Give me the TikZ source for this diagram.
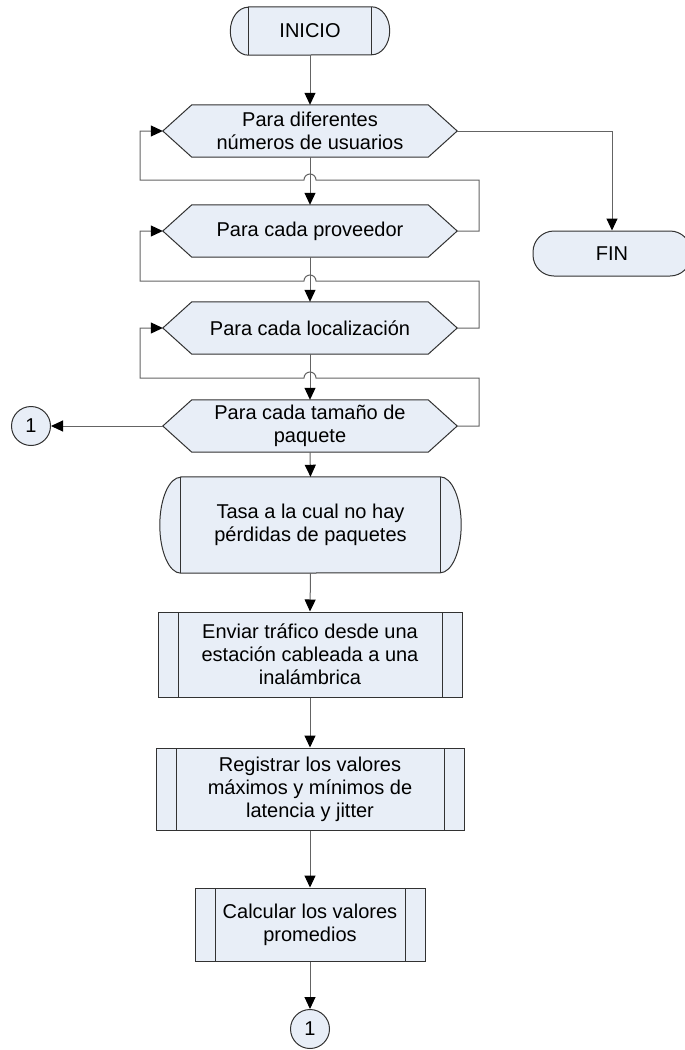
\documentclass[tikz,border=0pt]{standalone}
\usepackage{fontspec}
\setmainfont{Liberation Sans}
\usetikzlibrary{arrows.meta,backgrounds}

\definecolor{boxfill}{RGB}{232,238,247}
\definecolor{bordergray}{RGB}{50,50,50}
\definecolor{wiregray}{RGB}{100,100,100}

% hexagonal loop symbol drawn around a named node (tips at west/east)
\newcommand\hexoutline[1]{%
  \path[shapeline] (#1.west) -- ([xshift=29pt]#1.north west)
    -- ([xshift=-29pt]#1.north east) -- (#1.east)
    -- ([xshift=-29pt]#1.south east) -- ([xshift=29pt]#1.south west) -- cycle;}

% rectangle with bowed ends and two inner bars around a named node
\newcommand\drumoutline[3]{%
  \path[shapeline] (#1.north west) -- (#1.north east)
    arc[start angle=90,end angle=-90,x radius=#2,y radius=#3]
    -- (#1.south west)
    arc[start angle=270,end angle=90,x radius=#2,y radius=#3] -- cycle;
  \draw[bordergray,line width=1pt] (#1.north west) -- (#1.south west)
    (#1.north east) -- (#1.south east);}

\begin{document}
\begin{tikzpicture}[x=1pt,y=-1pt,
  every node/.style={font=\fontsize{20}{23}\selectfont, align=center, inner sep=0pt, text=black},
  shapeline/.style={draw=bordergray, fill=boxfill, line width=1pt},
  loopbox/.style={rectangle, minimum width=294pt, minimum height=52pt},
  drumbox/.style={rectangle},
  procbox/.style={rectangle, draw=bordergray, fill=boxfill, line width=1pt,
    path picture={\draw[bordergray,line width=1pt]
      ([xshift=20pt]path picture bounding box.north west) -- ([xshift=20pt]path picture bounding box.south west)
      ([xshift=-20pt]path picture bounding box.north east) -- ([xshift=-20pt]path picture bounding box.south east);}},
  endbox/.style={rectangle, rounded corners=21pt, draw=bordergray, fill=boxfill, line width=1pt,
    minimum width=158pt, minimum height=45pt},
  connector/.style={circle, draw=bordergray, fill=boxfill, line width=1pt, minimum size=39pt},
  flow/.style={draw=wiregray, line width=1pt, -{Triangle[length=12pt,width=11pt,color=black]}},
  wire/.style={draw=wiregray, line width=1pt}]

\useasboundingbox (0,0) rectangle (685,1050);

% nodes
\node[drumbox, minimum width=123pt, minimum height=48pt] (start) at (310,31) {INICIO};
\node[loopbox] (h1) at (310,131) {Para diferentes\\números de usuarios};
\node[loopbox] (h2) at (310,231) {Para cada proveedor};
\node[loopbox] (h3) at (310,328) {Para cada localización};
\node[loopbox] (h4) at (310,426) {Para cada tamaño de\\paquete};
\node[endbox] (fin) at (612,253.5) {FIN};
\node[connector] (c1) at (31,426) {1};
\node[drumbox, minimum width=259pt, minimum height=96pt] (rate) at (310.5,525) {Tasa a la cual no hay\\pérdidas de paquetes};
\node[procbox, minimum width=304pt, minimum height=85pt] (send) at (310,654.5) {Enviar tráfico desde una\\estación cableada a una\\inalámbrica};
\node[procbox, minimum width=308pt, minimum height=82pt] (reg) at (310,789) {Registrar los valores\\máximos y mínimos de\\latencia y jitter};
\node[procbox, minimum width=230pt, minimum height=73pt] (calc) at (310,924.5) {Calcular los valores\\promedios};
\node[connector] (c2) at (310,1029) {1};

% outlines behind the texts
\begin{scope}[on background layer]
  \drumoutline{start}{18pt}{24pt}
  \hexoutline{h1}
  \hexoutline{h2}
  \hexoutline{h3}
  \hexoutline{h4}
  \drumoutline{rate}{21pt}{48pt}
\end{scope}

% main flow
\draw[flow] (start.south) -- (h1.north);
\draw[flow] (h1.south) -- (h2.north);
\draw[flow] (h2.south) -- (h3.north);
\draw[flow] (h3.south) -- (h4.north);
\draw[flow] (h4.south) -- (rate.south |- rate.north);
\draw[flow] (rate.south) -- (send.north);
\draw[flow] (send.south) -- (reg.north);
\draw[flow] (reg.south) -- (calc.north);
\draw[flow] (calc.south) -- (c2.north);

% exits
\draw[flow] (h1.east) -| (fin.north);
\draw[flow] (h4.west) -- (c1.east);

% loop returns, hopping over the main flow line
\draw[flow] (h2.east) -| (479,180) -- (316,180) arc[start angle=0,end angle=180,radius=6pt] -- (140,180) |- (h1.west);
\draw[flow] (h3.east) -| (479,281) -- (316,281) arc[start angle=0,end angle=180,radius=6pt] -- (140,281) |- (h2.west);
\draw[flow] (h4.east) -| (479,378) -- (316,378) arc[start angle=0,end angle=180,radius=6pt] -- (140,378) |- (h3.west);

\end{tikzpicture}
\end{document}
